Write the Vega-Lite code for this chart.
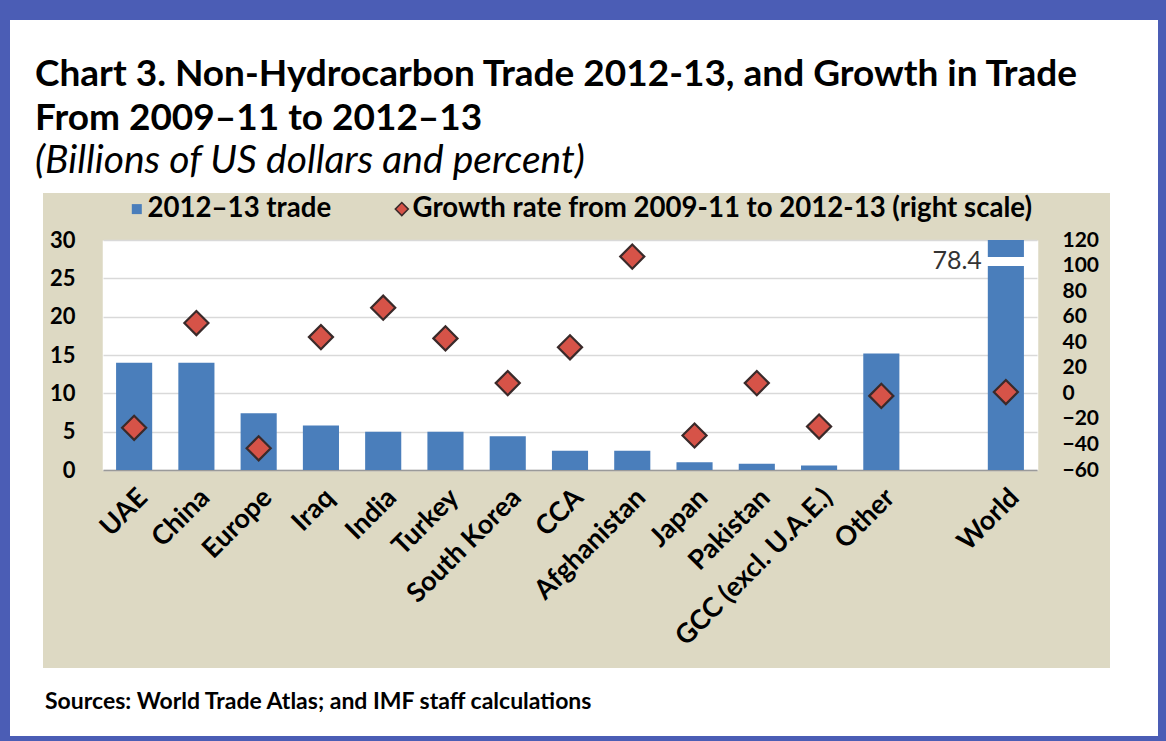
{
  "$schema": "https://vega.github.io/schema/vega-lite/v6.json",
  "background": "#4b5db5",
  "padding": {"left": 10, "top": 20, "right": 8, "bottom": 5},
  "spacing": 0,
  "config": {"font": "Lato", "view": {"stroke": null}, "concat": {"spacing": 0}},
  "datasets": {
    "trade": [
      {"country": "UAE", "trade": 14.0, "growth": -27},
      {"country": "China", "trade": 14.0, "growth": 55},
      {"country": "Europe", "trade": 7.4, "growth": -43},
      {"country": "Iraq", "trade": 5.8, "growth": 44},
      {"country": "India", "trade": 5.0, "growth": 67},
      {"country": "Turkey", "trade": 5.0, "growth": 43},
      {"country": "South Korea", "trade": 4.4, "growth": 8},
      {"country": "CCA", "trade": 2.5, "growth": 36},
      {"country": "Afghanistan", "trade": 2.5, "growth": 107},
      {"country": "Japan", "trade": 1.0, "growth": -33},
      {"country": "Pakistan", "trade": 0.8, "growth": 8},
      {"country": "GCC (excl. U.A.E.)", "trade": 0.6, "growth": -26},
      {"country": "Other", "trade": 15.2, "growth": -2},
      {"country": "World", "trade": 78.4, "growth": 1}
    ]
  },
  "vconcat": [
    {
      "width": 1148,
      "height": 173,
      "view": {"fill": "#ffffff", "stroke": null},
      "data": {"values": []},
      "mark": "text",
      "title": {
        "text": ["Chart 3. Non-Hydrocarbon Trade 2012-13, and Growth in Trade", "From 2009–11 to 2012–13"],
        "subtitle": "(Billions of US dollars and percent)",
        "anchor": "start",
        "frame": "group",
        "orient": "top",
        "offset": -162,
        "dx": 25,
        "font": "Lato",
        "fontSize": 37,
        "fontWeight": "bold",
        "color": "#000000",
        "lineHeight": 44,
        "subtitleFont": "Lato",
        "subtitleFontSize": 39,
        "subtitleFontStyle": "italic",
        "subtitleFontWeight": "normal",
        "subtitleColor": "#000000",
        "subtitleLineHeight": 42,
        "subtitlePadding": 4
      }
    },
    {
      "hconcat": [
        {
          "width": 33,
          "height": 475,
          "view": {"fill": "#ffffff", "stroke": null},
          "data": {"values": []},
          "mark": "text"
        },
        {
          "width": 1067,
          "height": 475,
          "view": {"fill": "#ddd9c3", "stroke": null},
          "data": {"name": "trade"},
          "layer": [
            {
              "layer": [
                {
                  "mark": {"type": "bar"},
                  "encoding": {
                    "x": {
                      "field": "country",
                      "type": "nominal",
                      "scale": {
                        "domain": ["UAE", "China", "Europe", "Iraq", "India", "Turkey", "South Korea", "CCA", "Afghanistan", "Japan", "Pakistan", "GCC (excl. U.A.E.)", "Other", " ", "World"],
                        "range": [60, 994],
                        "paddingInner": 0.42,
                        "paddingOuter": 0.21
                      },
                      "axis": {
                        "orient": "bottom",
                        "offset": -198,
                        "title": null,
                        "labelAngle": -45,
                        "labelAlign": "right",
                        "labelBaseline": "top",
                        "labelPadding": 14,
                        "labelFont": "Lato",
                        "labelFontSize": 27,
                        "labelFontWeight": "bold",
                        "labelColor": "#000000",
                        "labelLimit": 400,
                        "labelOverlap": false,
                        "ticks": false,
                        "domain": true,
                        "domainColor": "#9a9a9a",
                        "domainWidth": 1.5,
                        "grid": false,
                        "bandPosition": 0.5
                      }
                    },
                    "y": {
                      "field": "trade",
                      "type": "quantitative",
                      "scale": {"domain": [0, 30], "range": [277, 47], "clamp": true, "nice": false},
                      "axis": {
                        "orient": "left",
                        "offset": -60,
                        "title": null,
                        "values": [0, 5, 10, 15, 20, 25, 30],
                        "labelFont": "Lato",
                        "labelFontSize": 22,
                        "labelFontWeight": "bold",
                        "labelColor": "#000000",
                        "labelPadding": 28,
                        "labelOverlap": false,
                        "ticks": false,
                        "domain": false,
                        "grid": true,
                        "gridColor": "#d9d9d9",
                        "gridWidth": 1.5
                      }
                    },
                    "color": {
                      "datum": "2012–13 trade",
                      "scale": {
                        "domain": ["2012–13 trade", "Growth rate from 2009-11 to 2012-13 (right scale)"],
                        "range": ["#4a7ebb", "#d65348"]
                      },
                      "legend": {
                        "orient": "none",
                        "legendX": 113,
                        "legendY": 175,
                        "direction": "horizontal",
                        "title": null,
                        "padding": 0,
                        "labelFont": "Lato",
                        "labelFontSize": 27.6,
                        "labelFontWeight": "bold",
                        "labelColor": "#000000",
                        "labelLimit": 900,
                        "labelOffset": -3,
                        "columnPadding": 56,
                        "symbolType": "square",
                        "symbolSize": 100,
                        "symbolStrokeWidth": 0,
                        "encode": {
                          "symbols": {
                            "update": {
                              "shape": {"signal": "datum.index === 1 ? 'diamond' : 'square'"},
                              "size": {"signal": "datum.index === 1 ? 170 : 100"},
                              "stroke": {"value": "#3a2a2a"},
                              "strokeWidth": {"signal": "datum.index === 1 ? 1.5 : 0"}
                            }
                          }
                        }
                      }
                    }
                  }
                },
                {
                  "transform": [{"filter": "datum.country === 'World'"}],
                  "mark": {"type": "tick", "color": "#ffffff", "thickness": 9, "size": 40, "opacity": 1, "orient": "horizontal"},
                  "encoding": {
                    "x": {"field": "country", "type": "nominal"},
                    "y": {"datum": 27.2, "type": "quantitative"}
                  }
                },
                {
                  "transform": [{"filter": "datum.country === 'World'"}],
                  "mark": {"type": "text", "align": "right", "baseline": "middle", "dx": -24, "font": "Lato", "fontSize": 25, "color": "#333333"},
                  "encoding": {
                    "x": {"field": "country", "type": "nominal"},
                    "y": {"datum": 27.2, "type": "quantitative"},
                    "text": {"field": "trade", "type": "quantitative", "format": ".1f"}
                  }
                }
              ]
            },
            {
              "mark": {"type": "point", "shape": "diamond", "filled": true, "size": 580, "stroke": "#3a2a2a", "strokeWidth": 2.2, "opacity": 1},
              "encoding": {
                "x": {
                  "field": "country",
                  "type": "nominal",
                  "scale": {
                    "domain": ["UAE", "China", "Europe", "Iraq", "India", "Turkey", "South Korea", "CCA", "Afghanistan", "Japan", "Pakistan", "GCC (excl. U.A.E.)", "Other", " ", "World"],
                    "range": [60, 994],
                    "paddingInner": 0.42,
                    "paddingOuter": 0.21
                  },
                  "axis": {
                    "orient": "top",
                    "offset": 0,
                    "title": null,
                    "labels": false,
                    "ticks": false,
                    "domain": false,
                    "grid": true,
                    "gridColor": "#ffffff",
                    "gridWidth": 63.5,
                    "gridOpacity": 1,
                    "bandPosition": 0.5
                  }
                },
                "y": {
                  "field": "growth",
                  "type": "quantitative",
                  "scale": {"domain": [-60, 120], "range": [277, 47], "nice": false, "zero": false},
                  "axis": {
                    "orient": "right",
                    "offset": -73,
                    "title": null,
                    "values": [-60, -40, -20, 0, 20, 40, 60, 80, 100, 120],
                    "labelFont": "Lato",
                    "labelFontSize": 21,
                    "labelFontWeight": "bold",
                    "labelColor": "#000000",
                    "labelAlign": "left",
                    "labelPadding": 25,
                    "labelOverlap": false,
                    "ticks": false,
                    "domain": false,
                    "grid": false
                  }
                },
                "color": {"datum": "Growth rate from 2009-11 to 2012-13 (right scale)"}
              }
            }
          ],
          "resolve": {"scale": {"x": "independent", "y": "independent"}, "axis": {"x": "independent", "y": "independent"}}
        },
        {
          "width": 48,
          "height": 475,
          "view": {"fill": "#ffffff", "stroke": null},
          "data": {"values": []},
          "mark": "text"
        }
      ],
      "spacing": 0
    },
    {
      "width": 1148,
      "height": 68,
      "view": {"fill": "#ffffff", "stroke": null},
      "data": {"values": []},
      "mark": "text",
      "title": {
        "text": "Sources: World Trade Atlas; and IMF staff calculations",
        "anchor": "start",
        "frame": "group",
        "orient": "top",
        "offset": -46,
        "dx": 35,
        "font": "Lato",
        "fontSize": 23,
        "fontWeight": "bold",
        "color": "#000000"
      }
    }
  ]
}
